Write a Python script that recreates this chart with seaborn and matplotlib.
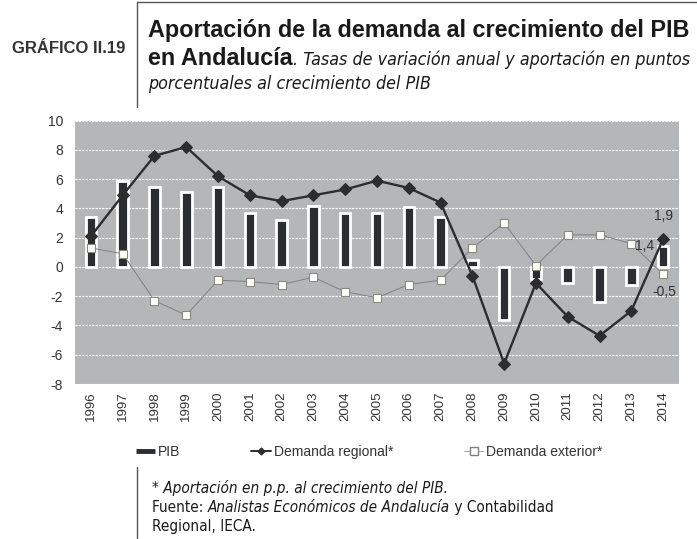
import matplotlib
matplotlib.use('Agg')
import matplotlib.pyplot as plt
from matplotlib import font_manager
from matplotlib.lines import Line2D
import numpy as np
import pandas as pd
import seaborn as sns

# Data (annual rates / contribution in p.p.)
years = ['1996', '1997', '1998', '1999', '2000', '2001', '2002', '2003', '2004', '2005',
         '2006', '2007', '2008', '2009', '2010', '2011', '2012', '2013', '2014']
pib = [3.4, 5.9, 5.5, 5.1, 5.5, 3.7, 3.2, 4.2, 3.7, 3.7,
       4.1, 3.4, 0.5, -3.6, -0.8, -1.1, -2.4, -1.2, 1.4]
dem_regional = [2.1, 4.9, 7.6, 8.2, 6.2, 4.9, 4.5, 4.9, 5.3, 5.9,
                5.4, 4.4, -0.6, -6.6, -1.1, -3.4, -4.7, -3.0, 1.9]
dem_exterior = [1.3, 0.9, -2.3, -3.3, -0.9, -1.0, -1.2, -0.7, -1.7, -2.1,
                -1.2, -0.9, 1.3, 3.0, 0.1, 2.2, 2.2, 1.6, -0.5]
yticks = [-8, -6, -4, -2, 0, 2, 4, 6, 8, 10]

df = pd.DataFrame({'year': years, 'PIB': pib,
                   'Demanda regional*': dem_regional,
                   'Demanda exterior*': dem_exterior})

sns.set_style('white')
plt.rcParams['font.family'] = ['Liberation Sans', 'DejaVu Sans']
plt.rcParams['axes.unicode_minus'] = False

# condensed face for the notes, if the system has one
fonts = font_manager.fontManager.ttflist
if any(f.name == 'DejaVu Sans' and f.stretch == 'condensed' for f in fonts):
    cond = dict(family='DejaVu Sans', stretch='condensed')
    foot_target = 400
else:
    cond = dict(family='Liberation Sans')
    foot_target = 420

dark = '#2b2e31'
grey_bg = '#b5b6b8'
txt = '#333333'

W, H = 697, 539
fig = plt.figure(figsize=(W / 100, H / 100), dpi=100)


def fx(px):
    return px / W


def fy(py):
    return 1 - py / H


ax = fig.add_axes([fx(75), fy(384), (679 - 75) / W, (384 - 120.7) / H])
ax.set_facecolor(grey_bg)

sns.barplot(data=df, x='year', y='PIB', ax=ax, color=dark, saturation=1,
            width=0.33, edgecolor='white', linewidth=2, zorder=2)
sns.lineplot(data=df, x='year', y='Demanda exterior*', ax=ax, sort=False,
             color='#808080', linewidth=0.7, marker='s', markersize=6.3,
             markerfacecolor='white', markeredgecolor='#8a8a7a', markeredgewidth=0.8,
             zorder=3)
sns.lineplot(data=df, x='year', y='Demanda regional*', ax=ax, sort=False,
             color='#2d2d2d', linewidth=1.7, marker='D', markersize=6.5,
             markeredgecolor='#2d2d2d', zorder=4)

ax.set_ylim(-8, 10)
ax.set_xlim(-0.5, len(years) - 0.5)
ax.set_yticks(yticks)
ax.set_xlabel('')
ax.set_ylabel('')
ax.yaxis.grid(True, color='white', linestyle=(0, (2, 1)), linewidth=0.8)
ax.set_axisbelow(True)
for s in ax.spines.values():
    s.set_visible(False)
ax.tick_params(axis='y', length=0, pad=8.5, labelsize=10, labelcolor=txt)
ax.tick_params(axis='x', length=0, pad=5.5, labelsize=9.5, labelcolor=txt, labelrotation=90)


def fmt(v):
    return f'{v:.1f}'.replace('.', ',')


last = len(years) - 1
ax.annotate(fmt(dem_regional[-1]), (last, dem_regional[-1]), xytext=(0, 12),
            textcoords='offset points', ha='center', va='bottom', fontsize=10, color=txt)
ax.annotate(fmt(pib[-1]), (last, pib[-1]), xytext=(-13, 0),
            textcoords='offset points', ha='center', va='center', fontsize=10, color=txt)
ax.annotate(fmt(dem_exterior[-1]), (last, dem_exterior[-1]), xytext=(1, -8),
            textcoords='offset points', ha='center', va='top', fontsize=10, color=txt)

# legend below the plot
handles = [
    Line2D([], [], color=dark, linewidth=3.5, solid_capstyle='butt'),
    Line2D([], [], color='#2d2d2d', linewidth=1.4, marker='D', markersize=3.5),
    Line2D([], [], color='#909090', linewidth=0.6, marker='s', markersize=6,
           markerfacecolor='white', markeredgecolor='#7f7f7f'),
]
fig.legend(handles, ['PIB', 'Demanda regional*', 'Demanda exterior*'],
           loc='center left', bbox_to_anchor=(fx(136), fy(452)), ncol=3, frameon=False,
           fontsize=10, labelcolor=txt, handlelength=1.4, handletextpad=0.2,
           columnspacing=5.1, borderpad=0, borderaxespad=0)

# header / footer texts
renderer = fig.canvas.get_renderer()


def put_line(x, y, parts, fs):
    out = []
    for s, kw in parts:
        t = fig.text(fx(x), fy(y), s, ha='left', va='baseline', fontsize=fs, **kw)
        x = t.get_window_extent(renderer).x1
        out.append(t)
    return out, x


def fit_line(x, y, parts, fs, target):
    out, x1 = put_line(x, y, parts, fs)
    for t in out:
        t.remove()
    fs = fs * target / (x1 - x)
    out, x1 = put_line(x, y, parts, fs)
    return fs


fig.text(fx(12), fy(53), 'GRÁFICO II.19', fontsize=12, weight='bold', color=txt)

bold = dict(weight='bold', family='Liberation Sans', color='#1a1a1a')
ital = dict(style='italic', color='#1a1a1a', **cond)
title_fs = fit_line(148, 37, [('Aportación de la demanda al crecimiento del PIB', bold)],
                    18, 542)
_, xa = put_line(148, 65, [('en Andalucía', bold)], title_fs)
sub_fs = fit_line(xa, 65, [('. Tasas de variación anual y aportación en puntos', ital)],
                  14, 690 - xa)
put_line(148, 89, [('porcentuales al crecimiento del PIB', ital)], sub_fs)

reg = dict(color='#1a1a1a', **cond)
foot_fs = fit_line(152, 512, [('Fuente: ', reg), ('Analistas Económicos de Andalucía', ital),
                              (' y Contabilidad', reg)], 12, foot_target)
put_line(152, 493, [('* Aportación en p.p. al crecimiento del PIB.', ital)], foot_fs)
put_line(152, 531, [('Regional, IECA.', reg)], foot_fs)

# frame lines
line_c = '#555555'
fig.add_artist(Line2D([fx(137), fx(137)], [fy(2), fy(107)], color=line_c, linewidth=1))
fig.add_artist(Line2D([fx(137), fx(697)], [fy(2), fy(2)], color=line_c, linewidth=1))
fig.add_artist(Line2D([fx(137), fx(137)], [fy(467), fy(538)], color=line_c, linewidth=1))

fig.savefig('out.png', dpi=100)
